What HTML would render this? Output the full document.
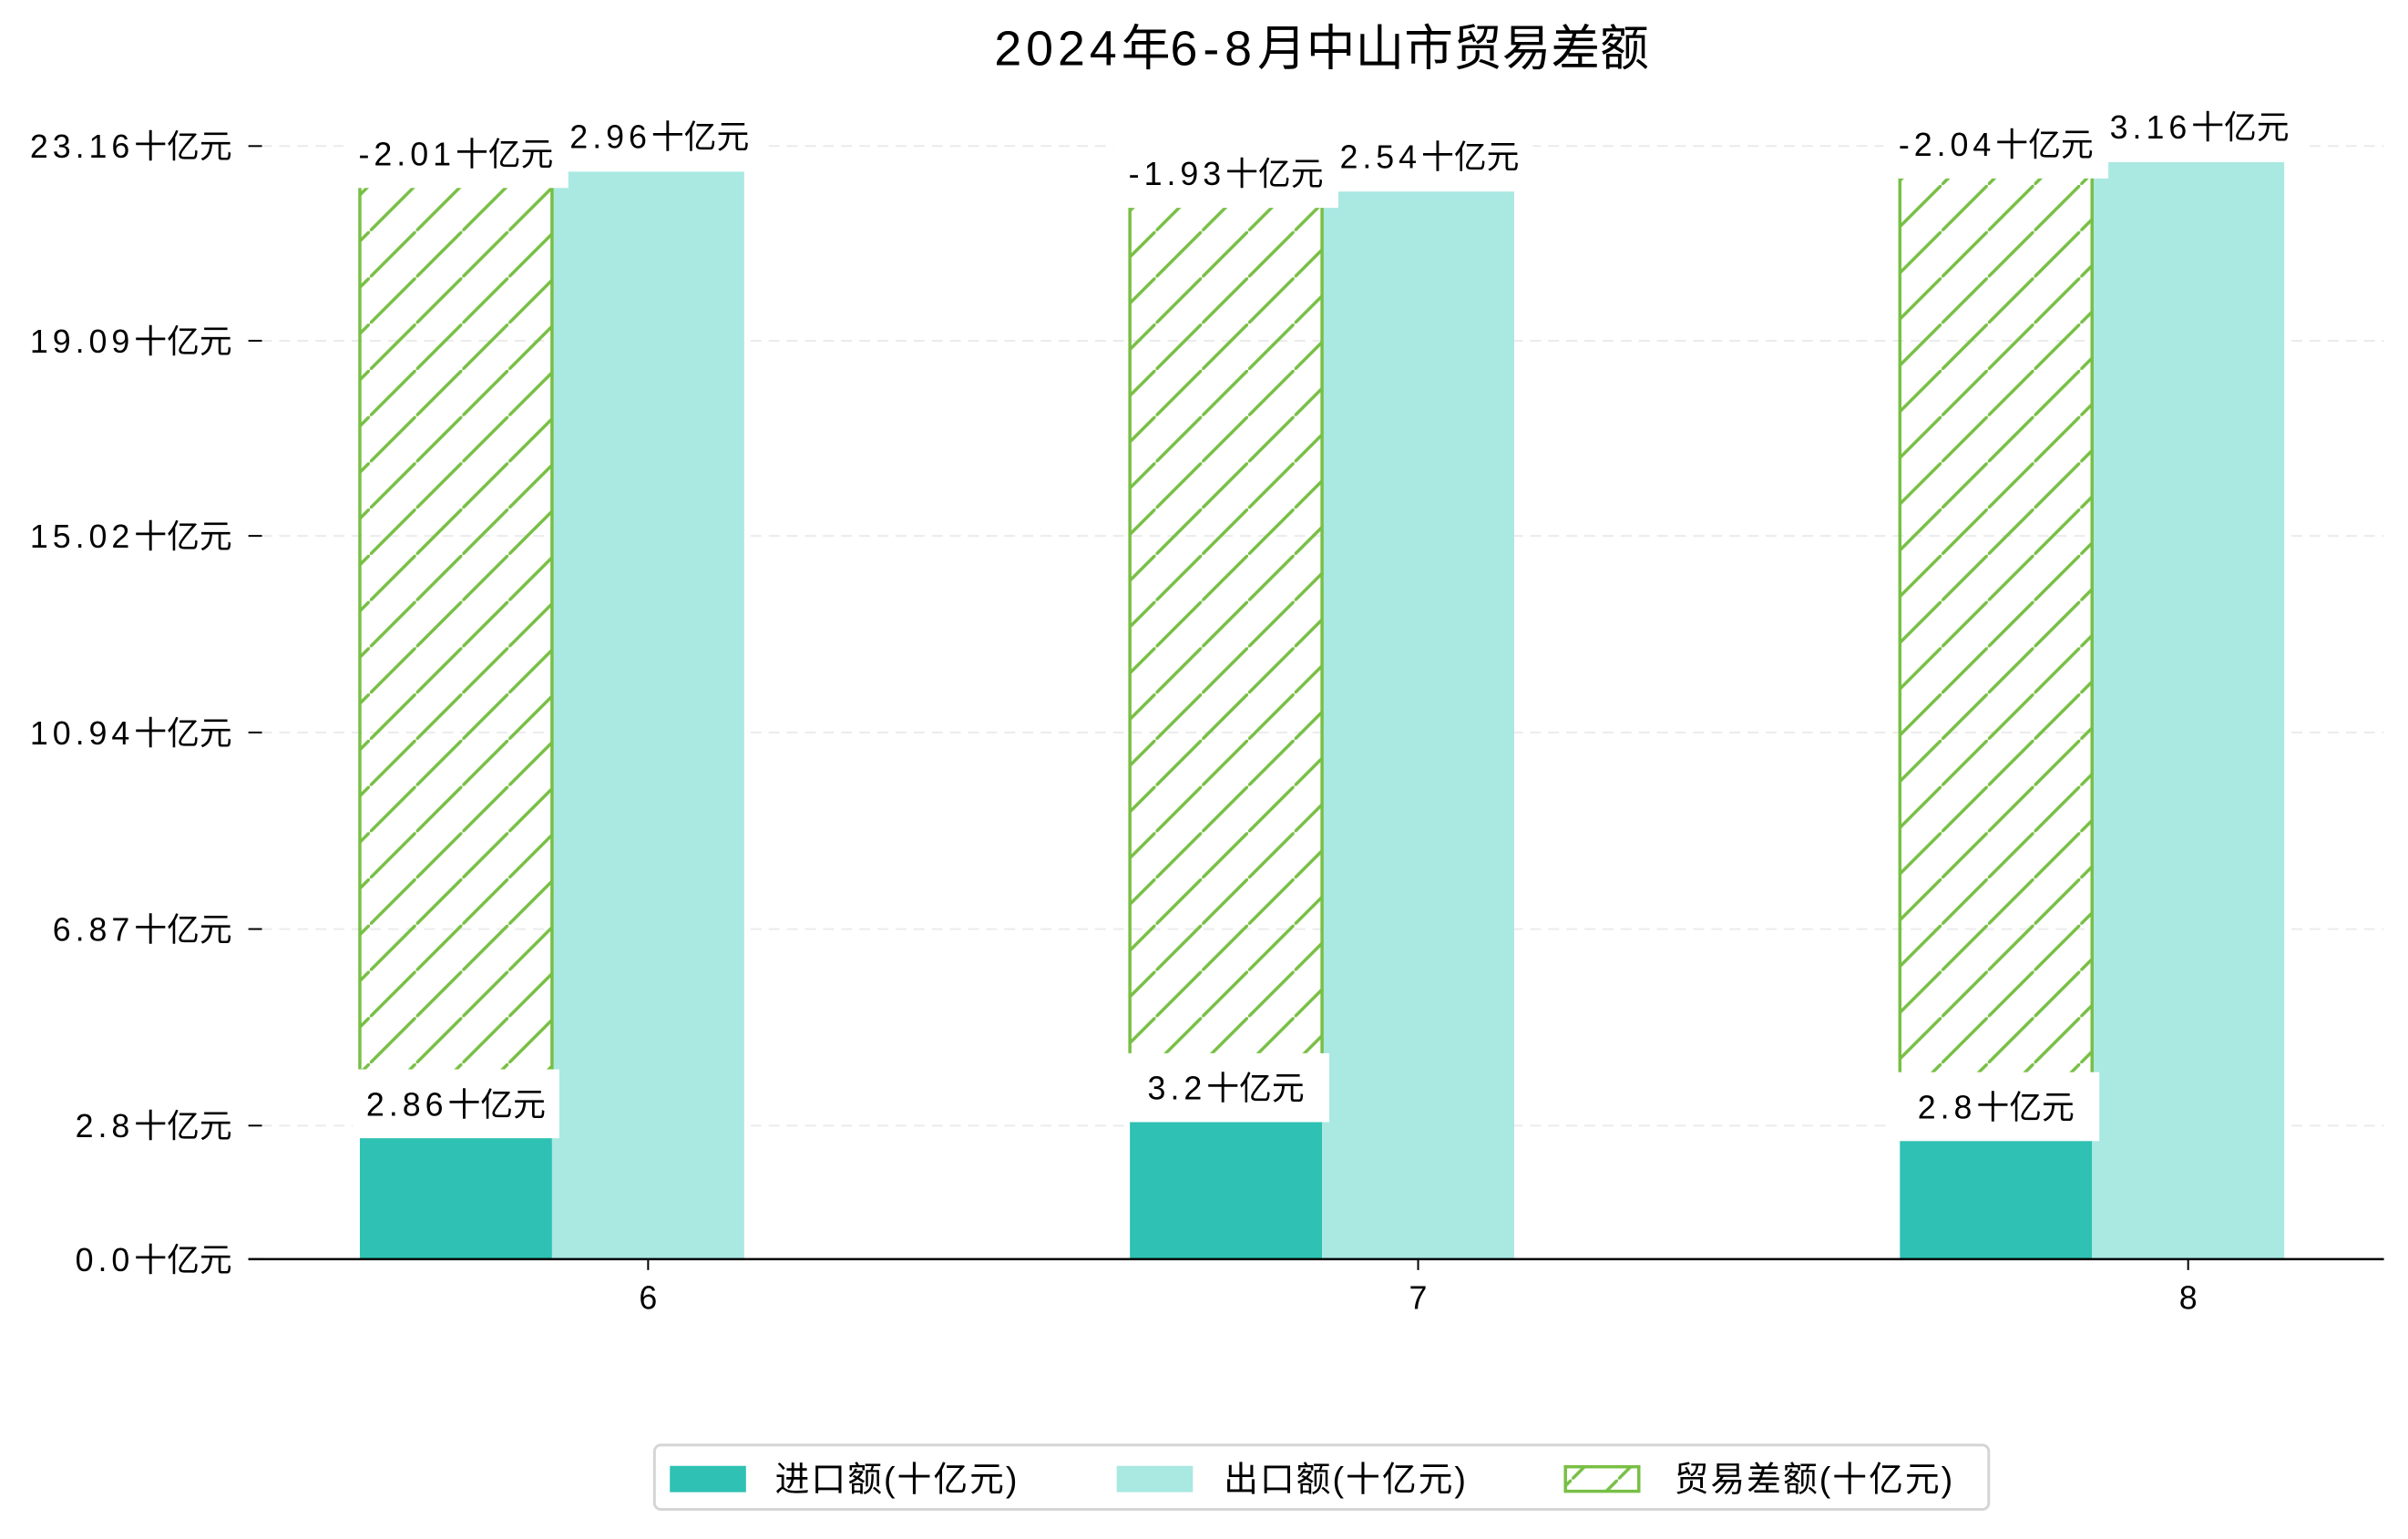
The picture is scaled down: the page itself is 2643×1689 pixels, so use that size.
<!DOCTYPE html>
<html><head><meta charset="utf-8">
<style>
html,body{margin:0;padding:0;background:#fff;}
svg{display:block;font-family:"Liberation Sans","Noto Sans CJK SC",sans-serif;}
.num{letter-spacing:5px;}
</style></head>
<body>
<svg id="chart" width="2643" height="1689" viewBox="0 0 2643 1689" xmlns="http://www.w3.org/2000/svg">
<defs>
<pattern id="hatch" patternUnits="userSpaceOnUse" width="51" height="51">
<line x1="-5" y1="56" x2="56" y2="-5" stroke="#78bf45" stroke-width="3.5"/>
</pattern>
</defs>
<g transform="scale(0.9949)">
<text x="1458" y="72" text-anchor="middle" font-size="54" fill="#000"><tspan class="num" letter-spacing="6">2024</tspan>年<tspan letter-spacing="6">6-8</tspan>月中山市贸易差额</text>
<g id="grid"></g>
<g id="bars"></g>
<g id="labels"></g>
<g id="axes"></g>
<g>
<rect x="722" y="1594" width="1472" height="71" rx="7" fill="#fff" stroke="#d5d5d5" stroke-width="3"/>
<rect x="739" y="1617" width="84" height="29" fill="#2fc1b3"/>
<text x="855" y="1645" font-size="38" letter-spacing="2">进口额(十亿元)</text>
<rect x="1232" y="1617" width="84" height="29" fill="#aae8e2"/>
<text x="1350" y="1645" font-size="38" letter-spacing="2">出口额(十亿元)</text>
<rect x="1727" y="1618" width="81" height="27" fill="url(#hatch)" stroke="#78bf45" stroke-width="3.5"/>
<text x="1847" y="1645" font-size="38" letter-spacing="2">贸易差额(十亿元)</text>
</g>
</g>
</svg>
<script>
const months = ["6", "7", "8"];
const imports = [2.86, 3.2, 2.8];
const exports = [22.96, 22.54, 23.16];
const balance = [-2.01, -1.93, -2.04];
const tickValues = [0, 2.82, 6.97, 11.12, 15.27, 19.39, 23.5];
const tickLabels = ["0.0", "2.8", "6.87", "10.94", "15.02", "19.09", "23.16"];
const unit = "十亿元";

const NS = "http://www.w3.org/2000/svg";
const baseY = 1389, pxPerUnit = 52.25;
const left = 274, right = 2630;
const groupCenters0 = 715, groupStep = 849.5, barW = 212;
function y(v){ return baseY - v * pxPerUnit; }
function xc(i){ return groupCenters0 + i * groupStep; }
function mk(tag, attrs, parent){
  const e = document.createElementNS(NS, tag);
  for (const k in attrs) e.setAttribute(k, attrs[k]);
  parent.appendChild(e); return e;
}
function fillLabel(t, num){
  const s = document.createElementNS(NS, 'tspan');
  s.setAttribute('class', 'num');
  s.textContent = num;
  t.appendChild(s);
  t.appendChild(document.createTextNode(unit));
}
const grid = document.getElementById('grid');
const bars = document.getElementById('bars');
const labels = document.getElementById('labels');
const axes = document.getElementById('axes');

tickValues.forEach((v, i) => {
  if (i > 0) {
    const g = mk('line', {x1: 288, x2: right, y1: y(v), y2: y(v), stroke: '#ebebeb', 'stroke-width': 2, 'stroke-dasharray': '12,8'}, grid);
    
    
  }
  const t = mk('line', {x1: left, x2: 289, y1: y(v), y2: y(v), stroke: '#000', 'stroke-width': 2}, axes);
  
  
  const l = mk('text', {x: 256, y: y(v) + 13, 'text-anchor': 'end', 'font-size': 36}, axes);
  fillLabel(l, tickLabels[i]);
  
  
});
const ax = mk('line', {x1: left, x2: right, y1: baseY, y2: baseY, stroke: '#000', 'stroke-width': 2.5}, axes);



function labelBox(num, cx, cy, minW, name){
  const g = mk('g', {}, labels);
  
  
  const t = mk('text', {x: cx, y: cy + 13, 'text-anchor': 'middle', 'font-size': 36}, g);
  fillLabel(t, num);
  const w = Math.max(t.getComputedTextLength() + 30, minW);
  const r = mk('rect', {x: cx - w / 2, y: cy - 38, width: w, height: 76, fill: '#fff'}, g);
  g.insertBefore(r, t);
}

months.forEach((m, i) => {
  const c = xc(i);
  const ix = c - 1.5 * barW, ex = c - 0.5 * barW;
  const bi = mk('rect', {x: ix, y: y(imports[i]), width: barW, height: baseY - y(imports[i]), fill: '#2fc1b3'}, bars);
  
  
  const be = mk('rect', {x: ex, y: y(exports[i]), width: barW, height: baseY - y(exports[i]), fill: '#aae8e2'}, bars);
  
  
  const bb = mk('rect', {x: ix, y: y(exports[i]), width: barW, height: y(imports[i]) - y(exports[i]), fill: 'url(#hatch)', stroke: '#78bf45', 'stroke-width': 3.5}, bars);
  
  
  const tk = mk('line', {x1: c, x2: c, y1: baseY, y2: baseY + 12, stroke: '#000', 'stroke-width': 2}, axes);
  
  
  const xl = mk('text', {x: c, y: baseY + 55, 'text-anchor': 'middle', 'font-size': 36}, axes);
  xl.textContent = m;
  
  
});
months.forEach((m, i) => {
  const c = xc(i);
  labelBox(String(imports[i]), c - barW, y(imports[i]) - 22, 228, 'import-value-label');
  labelBox(String(exports[i]), c, y(exports[i]) - 39, 0, 'export-value-label');
});
months.forEach((m, i) => {
  const c = xc(i);
  labelBox(String(balance[i]), c - barW, y(exports[i]) - 20, 248, 'balance-value-label');
});
</script>
</body></html>
